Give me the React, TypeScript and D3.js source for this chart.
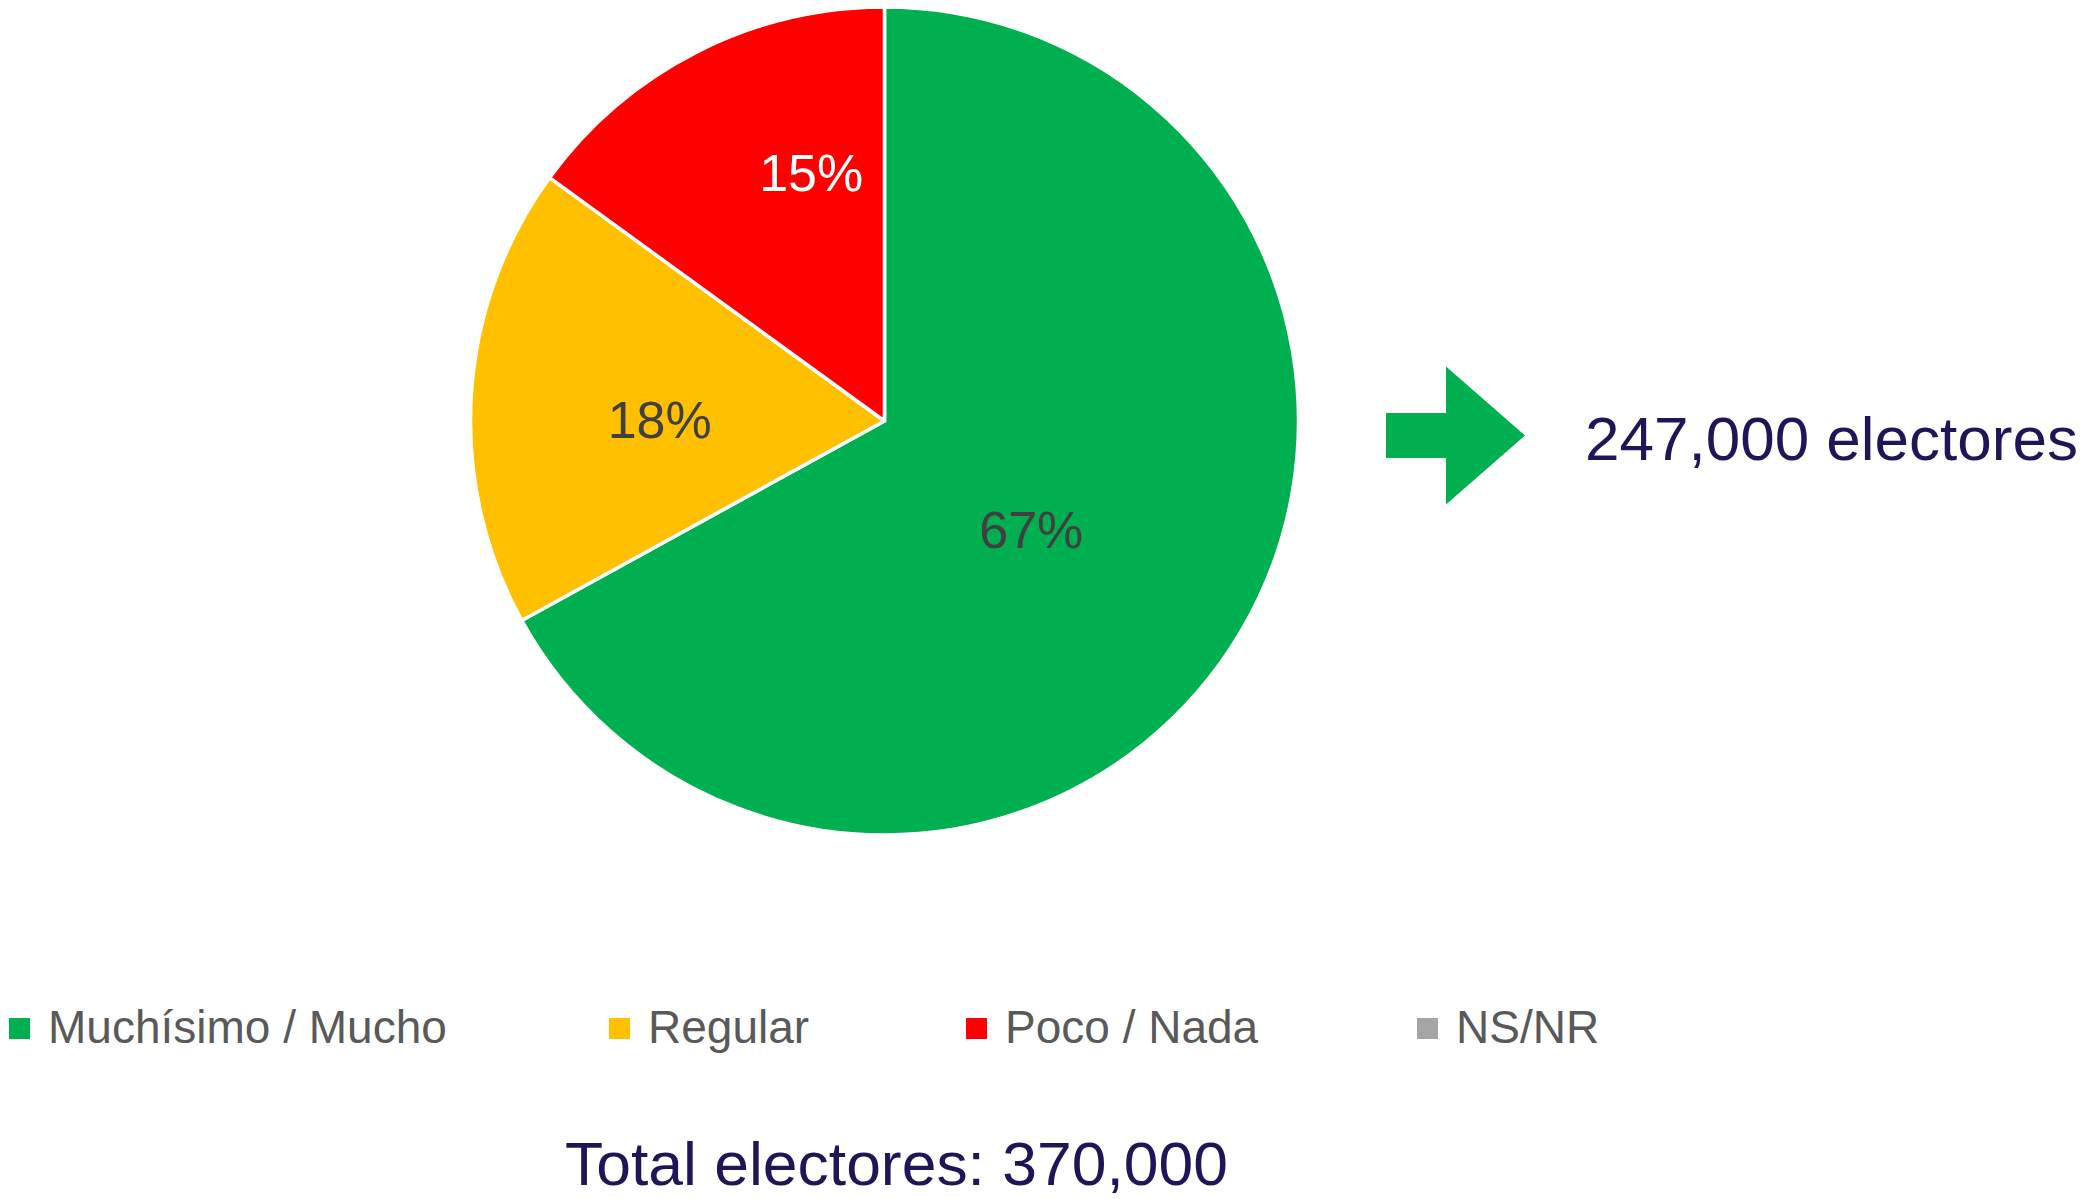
import React from "react";
import * as d3 from "d3";

const categories = ["Muchísimo / Mucho", "Regular", "Poco / Nada", "NS/NR"];
const values = [67, 18, 15, 0];
const colors = ["#00B050", "#FFC000", "#FF0000", "#A5A5A5"];
const labelColors = ["#404040", "#404040", "#FFFFFF", "#404040"];
const totalVoters = 370000;
const highlightVoters = 247000;

// label placement tweaks (radius fraction of pie radius, angle nudge in degrees)
const labelRadius = [0.44, 0.543, 0.627, 0.5];
const labelAngleNudge = [5.7, -3.1, 10.6, 0];

const W = 2085;
const H = 1199;
const FONT = "'Liberation Sans', Arial, Helvetica, sans-serif";
const NAVY = "#1E1656";

export default function App() {
  const cx = 884.5;
  const cy = 421;
  const r = 414;

  const pie = d3
    .pie<number>()
    .sort(null)
    .value((d) => d);
  const arcs = pie(values);
  const arcGen = d3.arc<d3.PieArcDatum<number>>().innerRadius(0).outerRadius(r);

  const fmt = d3.format(",");

  // legend layout
  const legendX = [9, 609, 966, 1417];
  const legendY = 1018;
  const sq = 21;

  // arrow
  const ax0 = 1386, ax1 = 1446, ax2 = 1525;
  const ayMid = 435.5;
  const shaftHalf = 22.5;
  const headHalf = 69;
  const arrowPath = d3.path();
  arrowPath.moveTo(ax0, ayMid - shaftHalf);
  arrowPath.lineTo(ax1, ayMid - shaftHalf);
  arrowPath.lineTo(ax1, ayMid - headHalf);
  arrowPath.lineTo(ax2, ayMid);
  arrowPath.lineTo(ax1, ayMid + headHalf);
  arrowPath.lineTo(ax1, ayMid + shaftHalf);
  arrowPath.lineTo(ax0, ayMid + shaftHalf);
  arrowPath.closePath();

  return (
    <svg
      width={W}
      height={H}
      style={{ position: "absolute", left: 0, top: 0, display: "block", background: "#fff" }}
      fontFamily={FONT}
    >
      <g transform={`translate(${cx},${cy})`}>
        {arcs.map((a, i) =>
          a.value > 0 ? (
            <path key={i} d={arcGen(a) || ""} fill={colors[i]} stroke="#fff" strokeWidth={3.5} strokeLinejoin="round" />
          ) : null
        )}
        {arcs.map((a, i) => {
          if (a.value <= 0) return null;
          const mid = (a.startAngle + a.endAngle) / 2 + (labelAngleNudge[i] * Math.PI) / 180;
          const rr = labelRadius[i] * r;
          const x = Math.sin(mid) * rr;
          const y = -Math.cos(mid) * rr;
          return (
            <text
              key={"l" + i}
              x={x}
              y={y}
              dy="0.36em"
              textAnchor="middle"
              fontSize={52}
              fill={labelColors[i]}
            >
              {`${values[i]}%`}
            </text>
          );
        })}
      </g>

      <path d={arrowPath.toString()} fill="#00B050" />
      <text x={1585} y={460} fontSize={62} fill={NAVY}>
        {`${fmt(highlightVoters)} electores`}
      </text>

      {categories.map((c, i) => (
        <g key={"leg" + i}>
          <rect x={legendX[i]} y={legendY} width={sq} height={sq} fill={colors[i]} />
          <text x={legendX[i] + sq + 18} y={1043} fontSize={46} fill="#595959">
            {c}
          </text>
        </g>
      ))}

      <text x={565} y={1185} fontSize={62} fill={NAVY} textLength={663} lengthAdjust="spacingAndGlyphs">
        {`Total electores: ${fmt(totalVoters)}`}
      </text>
    </svg>
  );
}
